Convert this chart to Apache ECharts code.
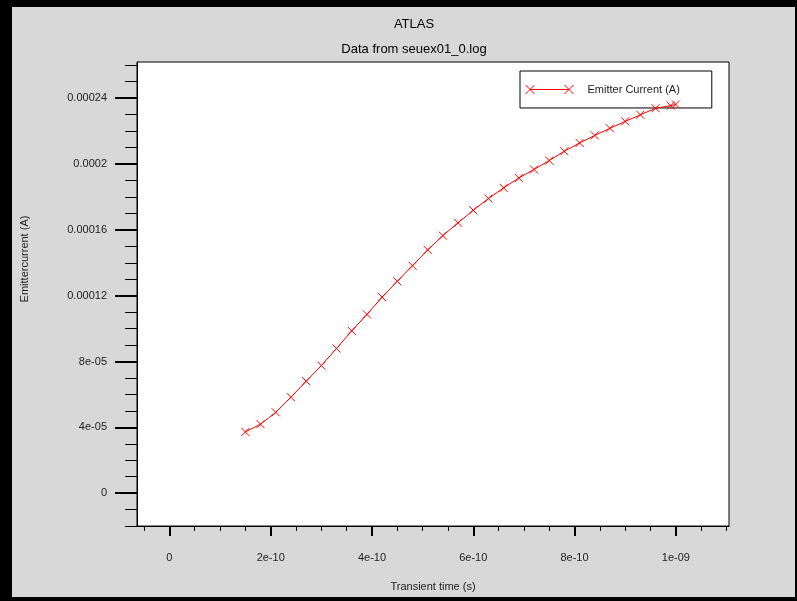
<!DOCTYPE html>
<html>
<head>
    <title>ATLAS - seuex01_0.log</title>
    <script src="https://cdn.jsdelivr.net/npm/echarts@6/dist/echarts.min.js"></script>
    <style>
        html, body { margin: 0; padding: 0; background: #d8d8d8; }
        #chart { width: 797px; height: 601px; }
    </style>
</head>
<body>
    <div id="chart"></div>

    <script>
    // transient time (s)
    const timeValues = [
        1.5e-10, 1.8e-10, 2.1e-10, 2.4e-10, 2.7e-10, 3.0e-10, 3.3e-10, 3.6e-10, 3.9e-10, 4.2e-10,
        4.5e-10, 4.8e-10, 5.1e-10, 5.4e-10, 5.7e-10, 6.0e-10, 6.3e-10, 6.6e-10, 6.9e-10, 7.2e-10,
        7.5e-10, 7.8e-10, 8.1e-10, 8.4e-10, 8.7e-10, 9.0e-10, 9.3e-10, 9.6e-10, 9.9e-10, 1.0e-9
    ];
    // emitter current (A)
    const emitterCurrent = [
        3.72e-5, 4.19e-5, 4.91e-5, 5.83e-5, 6.80e-5, 7.75e-5, 8.79e-5, 9.86e-5, 1.086e-4, 1.191e-4,
        1.287e-4, 1.382e-4, 1.478e-4, 1.565e-4, 1.643e-4, 1.719e-4, 1.790e-4, 1.855e-4, 1.915e-4, 1.967e-4,
        2.021e-4, 2.078e-4, 2.128e-4, 2.174e-4, 2.217e-4, 2.259e-4, 2.299e-4, 2.339e-4, 2.355e-4, 2.362e-4
    ];

    const xTickValues = [0, 2e-10, 4e-10, 6e-10, 8e-10, 1e-9];
    const xTickLabels = ['0', '2e-10', '4e-10', '6e-10', '8e-10', '1e-09'];
    const yTickValues = [0, 4e-5, 8e-5, 1.2e-4, 1.6e-4, 2e-4, 2.4e-4];
    const yTickLabels = ['0', '4e-05', '8e-05', '0.00012', '0.00016', '0.0002', '0.00024'];

    // minor ticks: every 0.5e-10 on x, every 1e-5 on y
    const xMinor = [];
    for (let k = -1; k <= 22; k++) {
        if (k % 4 !== 0) xMinor.push(k * 0.5e-10);
    }
    const yMinor = [];
    for (let k = -2; k <= 26; k++) {
        if (k % 4 !== 0) yMinor.push(k * 1e-5);
    }

    function labelFor(values, labels) {
        return function (v) {
            for (let i = 0; i < values.length; i++) {
                if (Math.abs(values[i] - v) < 1e-15) return labels[i];
            }
            return '';
        };
    }

    const FONT = 'Liberation Sans, Arial, sans-serif';
    const X_MIN = -0.64e-10, X_MAX = 1.105e-9;
    const Y_MIN = -2e-5, Y_MAX = 2.62e-4;

    const chart = echarts.init(document.getElementById('chart'));

    chart.setOption({
        animation: false,
        backgroundColor: '#d8d8d8',
        title: [
            { text: 'ATLAS', left: 409, top: 8, textAlign: 'center',
              textStyle: { fontFamily: FONT, fontSize: 13, fontWeight: 'normal', color: '#000' } },
            { text: 'Data from seuex01_0.log', left: 409, top: 33, textAlign: 'center',
              textStyle: { fontFamily: FONT, fontSize: 13, fontWeight: 'normal', color: '#000' } }
        ],
        legend: {
            data: ['Emitter Current (A)'],
            z: 1,
            left: 520,
            top: 71,
            padding: [9, 32, 9, 5],
            backgroundColor: '#fff',
            borderColor: '#000',
            borderWidth: 1,
            itemWidth: 48,
            itemHeight: 9,
            icon: 'path://M0,0L9,9M9,0L0,9M4.5,4.5L43.5,4.5M39,0L48,9M48,0L39,9',
            itemStyle: { color: '#ff0000', borderColor: '#ff0000', borderWidth: 1 },
            textStyle: { fontFamily: FONT, fontSize: 11, color: '#222', padding: [0, 0, 0, 9] }
        },
        grid: {
            left: 137, top: 62, right: 68, bottom: 71,
            show: true, backgroundColor: '#fff', borderColor: '#000', borderWidth: 1
        },
        xAxis: [
            {
                type: 'value', min: X_MIN, max: X_MAX, position: 'bottom',
                name: 'Transient time (s)', nameLocation: 'middle', nameGap: 51,
                nameTextStyle: { fontFamily: FONT, fontSize: 11, color: '#222' },
                axisLine: { show: true, onZero: false, lineStyle: { color: '#000', width: 1 } },
                axisTick: { show: true, customValues: xTickValues, length: 10, lineStyle: { color: '#000', width: 2 } },
                axisLabel: { show: true, customValues: xTickValues, margin: 22,
                    formatter: labelFor(xTickValues, xTickLabels),
                    fontFamily: FONT, fontSize: 11, color: '#222' },
                splitLine: { show: false }
            },
            {
                type: 'value', min: X_MIN, max: X_MAX, position: 'bottom', offset: 0,
                axisLine: { show: false, onZero: false },
                axisTick: { show: true, customValues: xMinor, length: 5, lineStyle: { color: '#000', width: 1 } },
                axisLabel: { show: false },
                splitLine: { show: false }
            }
        ],
        yAxis: [
            {
                type: 'value', min: Y_MIN, max: Y_MAX, position: 'left',
                axisLine: { show: true, onZero: false, lineStyle: { color: '#000', width: 1 } },
                axisTick: { show: true, customValues: yTickValues, length: 22, lineStyle: { color: '#000', width: 2 } },
                axisLabel: { show: true, customValues: yTickValues, margin: 30,
                    formatter: labelFor(yTickValues, yTickLabels),
                    fontFamily: FONT, fontSize: 11, color: '#222' },
                splitLine: { show: false }
            },
            {
                type: 'value', min: Y_MIN, max: Y_MAX, position: 'left', offset: 0,
                axisLine: { show: false, onZero: false },
                axisTick: { show: true, customValues: yMinor, length: 12, lineStyle: { color: '#000', width: 1 } },
                axisLabel: { show: false },
                splitLine: { show: false }
            }
        ],
        graphic: [
            { type: 'text', x: 25, y: 259, rotation: Math.PI / 2,
              style: { text: 'Emittercurrent (A)', fontFamily: FONT, fontSize: 11, fill: '#222',
                       align: 'center', verticalAlign: 'middle' } },
            // window frame
            { type: 'rect', shape: { x: 0, y: 0, width: 12, height: 601 }, style: { fill: '#000' } },
            { type: 'rect', shape: { x: 0, y: 0, width: 797, height: 7 }, style: { fill: '#000' } },
            { type: 'rect', shape: { x: 0, y: 597, width: 797, height: 4 }, style: { fill: '#000' } },
            { type: 'rect', shape: { x: 795, y: 0, width: 2, height: 601 }, style: { fill: '#000' } }
        ],
        series: [{
            name: 'Emitter Current (A)',
            type: 'line',
            z: 3,
            xAxisIndex: 0,
            yAxisIndex: 0,
            data: timeValues.map((t, i) => [t, emitterCurrent[i]]),
            symbol: 'path://M0,0L10,10M10,0L0,10',
            symbolSize: 8,
            showSymbol: true,
            lineStyle: { color: '#ff0000', width: 1 },
            itemStyle: { color: '#ff0000', borderColor: '#ff0000', borderWidth: 1 }
        }]
    });
    </script>
</body>
</html>
